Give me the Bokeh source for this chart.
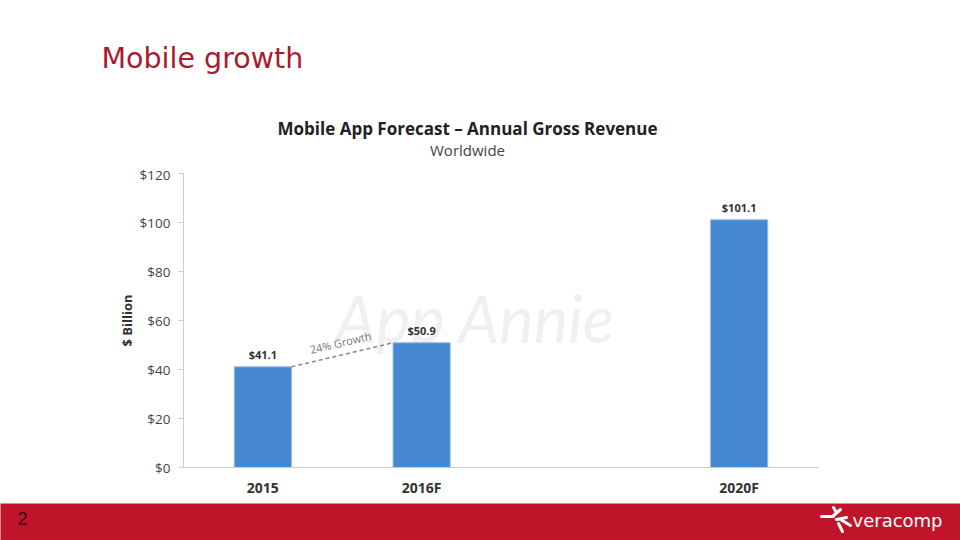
import math
from bokeh.plotting import figure
from bokeh.layouts import column
from bokeh.models import (Range1d, FactorRange, FixedTicker, PrintfTickFormatter,
                          Label, ColumnDataSource)
from bokeh.core.properties import value
from bokeh.embed import file_html
from bokeh.resources import INLINE

# ---------------- data ----------------
slide_title = "Mobile growth"
chart_title = "Mobile App Forecast \u2013 Annual Gross Revenue"
chart_subtitle = "Worldwide"
y_axis_title = "$ Billion"
axis_factors = ["2015", "2016F", " ", "2020F"]   # x slots (one empty slot)
categories = ["2015", "2016F", "2020F"]
revenue = [41.1, 50.9, 101.1]
y_ticks = [0, 20, 40, 60, 80, 100, 120]
y_max = 120
watermark = "App Annie"
page_number = "2"
brand = "veracomp"

W = 960
BLUE = "#4688d0"
FONT = "Open Sans"
RED = "#c0142a"

def canvas(h, y0, y1, **kw):
    f = figure(width=W, height=h, x_range=Range1d(0, W), y_range=Range1d(y1, y0),
               x_axis_location=None, y_axis_location=None, toolbar_location=None,
               output_backend="svg", min_border=0, outline_line_color=None, **kw)
    f.grid.visible = False
    f.frame_align = False
    return f

# ---------------- header (window coordinates) ----------------
head = canvas(165, 0, 165)
head.text(x=[101], y=[58], text=[slide_title], text_font=value("DejaVu Sans"),
          text_font_size="28.5px", text_color="#a81c30", text_baseline="middle",
          text_align="left")
head.text(x=[467], y=[128], text=[chart_title], text_font=value(FONT),
          text_font_size="17px", text_font_style="bold", text_color="#222222",
          text_baseline="middle", text_align="center")
head.text(x=[467], y=[149], text=[chart_subtitle], text_font=value(FONT),
          text_font_size="15px", text_color="#444444",
          text_baseline="middle", text_align="center")

# ---------------- main chart ----------------
ML, MR, MT, MB = 183, 142, 8, 36
H = 338
p = figure(width=W, height=H,
           x_range=FactorRange(factors=axis_factors, range_padding=0, factor_padding=0),
           y_range=Range1d(0, y_max), toolbar_location=None, output_backend="svg",
           min_border_left=ML, min_border_right=MR, min_border_top=MT, min_border_bottom=MB,
           outline_line_color=None)
p.grid.visible = False
p.frame_align = False

px_x = (W - ML - MR) / len(axis_factors)
px_y = (H - MT - MB) / y_max
bar_w = 0.36
src = ColumnDataSource(dict(cat=categories, val=revenue,
                            lab=["$%.1f" % x for x in revenue]))
xi = {f: i + 0.5 for i, f in enumerate(axis_factors)}

p.add_layout(Label(x=(475 - ML) / px_x, y=61, text=watermark, text_font="Lato",
                   text_font_size="65px", text_font_style="italic",
                   text_color="#f0f0f0", text_align="center", text_baseline="alphabetic",
                   level="underlay"))

p.vbar(x="cat", top="val", width=bar_w, source=src, fill_color=BLUE,
       line_color="#8fbbe8", line_width=1)
p.text(x="cat", y="val", text="lab", source=src, text_font=value(FONT),
       text_font_size="11px", text_font_style="bold", text_color="#333333",
       text_align="center", text_baseline="bottom", y_offset=-5)

x0 = xi[categories[0]] + bar_w / 2
x1 = xi[categories[1]] - bar_w / 2
y0, y1 = revenue[0], revenue[1]
p.segment(x0=[x0], y0=[y0], x1=[x1], y1=[y1], line_color="#888888",
          line_dash="4 3", line_width=1.5)
ang = math.atan2((y1 - y0) * px_y, (x1 - x0) * px_x)
growth = round((revenue[1] / revenue[0] - 1) * 100)
p.add_layout(Label(x=(x0 + x1) / 2, y=(y0 + y1) / 2, text="%d%% Growth" % growth,
                   angle=ang, text_font=FONT, text_font_size="11px",
                   text_color="#777777", text_align="center", text_baseline="bottom",
                   y_offset=5))

p.yaxis.ticker = FixedTicker(ticks=y_ticks)
p.yaxis.formatter = PrintfTickFormatter(format="$%d")
p.yaxis.axis_line_color = "#cccccc"
p.yaxis.major_tick_line_color = "#cccccc"
p.yaxis.major_tick_out = 5
p.yaxis.major_tick_in = 0
p.yaxis.minor_tick_line_color = None
p.yaxis.major_label_standoff = 8
p.yaxis.major_label_text_font = FONT
p.yaxis.major_label_text_font_size = "13.5px"
p.yaxis.major_label_text_color = "#444444"
p.yaxis.axis_label = y_axis_title
p.yaxis.axis_label_text_font = FONT
p.yaxis.axis_label_text_font_size = "13px"
p.yaxis.axis_label_text_font_style = "bold"
p.yaxis.axis_label_text_color = "#333333"
p.yaxis.axis_label_standoff = 1

p.xaxis.axis_line_color = "#cccccc"
p.xaxis.major_tick_line_color = None
p.xaxis.major_tick_out = 0
p.xaxis.major_tick_in = 0
p.xaxis.minor_tick_line_color = None
p.xaxis.major_label_standoff = 10
p.xaxis.major_label_text_font = FONT
p.xaxis.major_label_text_font_size = "14px"
p.xaxis.major_label_text_font_style = "bold"
p.xaxis.major_label_text_color = "#333333"

# ---------------- footer (window coordinates) ----------------
foot = canvas(37, 503, 540, background_fill_color=RED, border_fill_color=RED)
foot.text(x=[22], y=[518], text=[page_number], text_font=value("Liberation Sans"),
          text_font_size="18px", text_color="#3a0a10", text_align="center",
          text_baseline="middle")
foot.text(x=[852], y=[520], text=[brand], text_font=value("DejaVu Sans"),
          text_font_size="18px", text_color="white", text_align="left",
          text_baseline="middle")
foot.segment(x0=[821, 832, 836, 836, 840, 838], y0=[516, 516, 512, 519, 519, 523],
             x1=[833, 840, 833, 846, 850, 842], y1=[516, 509, 507, 517, 525, 531],
             line_color="white", line_width=3, line_cap="round")

layout = column(head, p, foot, spacing=0)
open("out.html", "w").write(file_html(layout, INLINE))
